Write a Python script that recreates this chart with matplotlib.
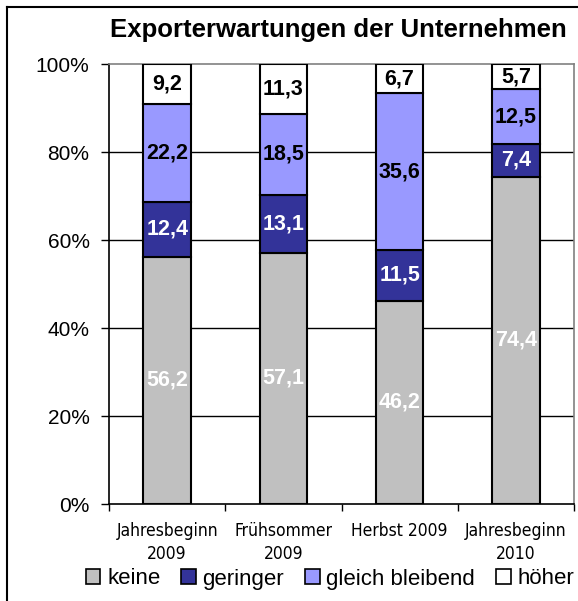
import matplotlib
matplotlib.use("Agg")
import matplotlib.pyplot as plt
from matplotlib.lines import Line2D
from matplotlib.patches import Patch
import numpy as np
from matplotlib import font_manager

categories = ["Jahresbeginn\n2009", "Frühsommer\n2009", "Herbst 2009", "Jahresbeginn\n2010"]
series_names = ["keine", "geringer", "gleich bleibend", "höher"]
keine = [56.2, 57.1, 46.2, 74.4]
geringer = [12.4, 13.1, 11.5, 7.4]
gleich = [22.2, 18.5, 35.6, 12.5]
hoeher = [9.2, 11.3, 6.7, 5.7]
yticks = [0, 20, 40, 60, 80, 100]

colors = ["#C0C0C0", "#333399", "#9999FF", "#FFFFFF"]
label_colors = ["white", "white", "black", "black"]

plt.rcParams['font.family'] = ['Liberation Sans', 'DejaVu Sans']

# pick a condensed font for the category labels if one is available
cat_font = dict(family='Liberation Sans', fontsize=11.5)
ttf = font_manager.fontManager.ttflist
narrow_names = [f.name for f in ttf if ('Narrow' in f.name or 'Condensed' in f.name)]
if 'Liberation Sans Narrow' in narrow_names:
    cat_font = dict(family='Liberation Sans Narrow', fontsize=14)
elif any(f.name == 'DejaVu Sans' and str(f.stretch).lower() in ('condensed', 'semi-condensed', '75', '87') for f in ttf):
    cat_font = dict(family='DejaVu Sans', fontstretch='condensed', fontsize=12.5)
elif narrow_names:
    cat_font = dict(family=narrow_names[0], fontsize=14)

fig = plt.figure(figsize=(5.78, 6.01), dpi=100)
ax = fig.add_axes([109/578, 1 - 504/601, (574-109)/578, (504-64)/601])

x = np.arange(1, len(categories) + 1)
data = [keine, geringer, gleich, hoeher]
bottom = np.zeros(len(categories))
for vals, col, lc in zip(data, colors, label_colors):
    vals = np.array(vals)
    ax.bar(x, vals, width=0.41, bottom=bottom, color=col, edgecolor='black', linewidth=1.5, zorder=3)
    for xi, b, v in zip(x, bottom, vals):
        ax.text(xi, b + v / 2, f"{v:.1f}".replace('.', ','), ha='center', va='center',
                color=lc, fontsize=15.5, fontweight='bold', zorder=4)
    bottom = bottom + vals

ax.set_xlim(0.5, len(categories) + 0.5)
ax.set_ylim(0, 100)
ax.set_yticks(yticks)
ax.set_yticklabels([f"{t}%" for t in yticks], fontsize=15)
for t in yticks[1:-1]:
    ax.axhline(t, color='black', linewidth=1, zorder=1)

ax.set_xticks(np.arange(0.5, len(categories) + 1, 1.0))
ax.set_xticklabels([])
ax.tick_params(axis='x', direction='out', length=5, width=1, color='black')
ax.tick_params(axis='y', direction='out', length=6, width=1, color='black', pad=8)
for xi, c in zip(x, categories):
    ax.text(xi, -4.0, c, ha='center', va='top', linespacing=1.4,
            transform=ax.transData, **cat_font)

ax.spines['left'].set_color('black')
ax.spines['bottom'].set_color('black')
ax.spines['top'].set_color('#808080')
ax.spines['right'].set_color('#808080')
for s in ax.spines.values():
    s.set_linewidth(1.2)

fig.text(338/578, 1 - 30/601, "Exporterwartungen der Unternehmen", ha='center', va='center',
         fontsize=18.5, fontweight='bold')

handles = [Patch(facecolor=c, edgecolor='black', linewidth=1.2) for c in colors]
fig.legend(handles, series_names, loc='center', bbox_to_anchor=(330/578, 1 - 579/601),
           ncol=4, frameon=False, fontsize=16, handlelength=0.65, handleheight=0.65,
           handletextpad=0.3, columnspacing=0.95, borderpad=0)

fig.add_artist(Line2D([7/578, 7/578], [0, 1 - 7/601], color='black', linewidth=1.5, transform=fig.transFigure))
fig.add_artist(Line2D([7/578, 1], [1 - 7/601, 1 - 7/601], color='black', linewidth=1.5, transform=fig.transFigure))

fig.savefig("out.png", dpi=100)
